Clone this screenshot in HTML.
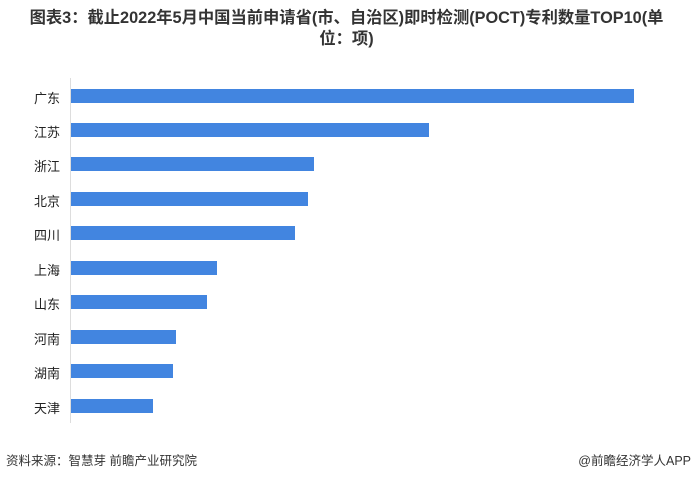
<html><head><style>
body{margin:0;width:693px;height:478px;background:#fff;font-family:"Liberation Sans","Noto Sans CJK SC",sans-serif;position:relative;overflow:hidden}
.t{position:absolute;left:0;width:693px;text-align:center;font-weight:bold;font-size:16.3px;color:#333;line-height:21px;top:8px;white-space:nowrap}
.l{position:absolute;left:22px;width:38px;text-align:right;font-size:13px;color:#222}
.b{position:absolute;left:71px;height:14px;background:#4285e0}
.ax{position:absolute;left:70px;top:78px;width:1px;height:345px;background:#ddd}
.f{position:absolute;top:450px;font-size:12.5px;color:#333}
</style></head><body>
<div class="t">图表3：截止2022年5月中国当前申请省(市、自治区)即时检测(POCT)专利数量TOP10(单<br>位：项)</div>
<div class="ax"></div>
<div class="l" style="top:88px">广东</div><div class="b" style="top:89px;width:563px"></div>
<div class="l" style="top:122px">江苏</div><div class="b" style="top:123px;width:358px"></div>
<div class="l" style="top:156px">浙江</div><div class="b" style="top:157px;width:243px"></div>
<div class="l" style="top:191px">北京</div><div class="b" style="top:192px;width:237px"></div>
<div class="l" style="top:225px">四川</div><div class="b" style="top:226px;width:224px"></div>
<div class="l" style="top:260px">上海</div><div class="b" style="top:261px;width:146px"></div>
<div class="l" style="top:294px">山东</div><div class="b" style="top:295px;width:136px"></div>
<div class="l" style="top:329px">河南</div><div class="b" style="top:330px;width:105px"></div>
<div class="l" style="top:363px">湖南</div><div class="b" style="top:364px;width:102px"></div>
<div class="l" style="top:398px">天津</div><div class="b" style="top:399px;width:82px"></div>
<div class="f" style="left:6px">资料来源：智慧芽 前瞻产业研究院</div>
<div class="f" style="right:2px">@前瞻经济学人APP</div>
</body></html>
